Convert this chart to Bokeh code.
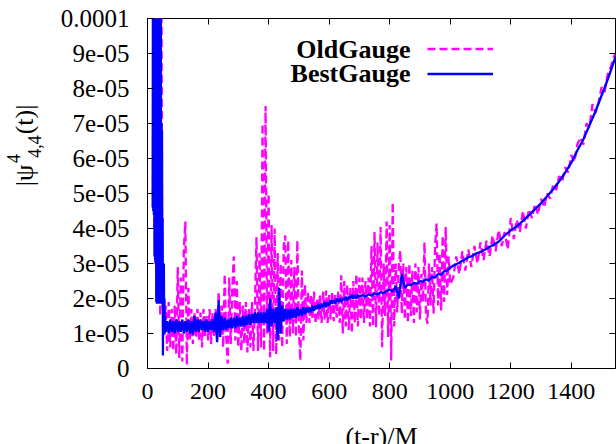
import numpy as np
from bokeh.plotting import figure
from bokeh.layouts import column, row
from bokeh.models import Range1d, LinearAxis, FixedTicker, Label, Legend, LegendItem
from bokeh.core.properties import value
from bokeh.embed import file_html
from bokeh.resources import INLINE

UNIT = 1e-5  # values below are in units of 1e-5

# ---- BestGauge (blue) ----
best_a = [4.6, 12, 4.5, 12, 4.4, 12, 3.2, 12, 3.1, 12, 3.0, 12, 1.9, 12, 1.85, 12, 1.9, 12, 1.9, 12,
          1.85, 12, 1.9, 12, 1.9, 12, 1.85, 11, 1.9, 7.0, 1.9, 6.8, 1.9, 4.3, 0.37, 3.0, 1.9, 3.0,
          1.2, 2.0, 1.0, 1.5]  # t = 17..58
best_b = [1.05, 1.35, 1.0, 1.4, 1.05, 1.35, 1.0, 1.4, 1.05, 1.35,
          1.05, 1.4, 1.0, 1.35, 1.05, 1.4, 1.0, 1.35, 0.97, 1.5,
          1.05, 1.4, 1.05, 1.4, 1.1, 1.35, 1.05, 1.4, 1.05, 1.35,
          1.1, 1.4, 1.05, 1.6, 0.75, 1.94, 0.9, 1.5, 1.1, 1.45,
          1.1, 1.4, 1.15, 1.45, 1.15, 1.45, 1.15, 1.5, 1.2, 1.45,
          1.2, 1.5, 1.2, 1.5, 1.25, 1.55, 1.25, 1.55, 1.3, 1.6,
          1.3, 1.6, 1.3, 1.6, 1.3, 1.6, 1.3, 1.7, 1.05, 2.0,
          1.2, 1.7, 1.3, 1.75, 0.8, 2.3, 1.0, 1.8, 1.35, 1.7,
          1.4, 1.7, 1.4, 1.7, 1.45, 1.7, 1.45, 1.75, 1.5, 1.7,
          1.5, 1.75, 1.55, 1.75, 1.6, 1.75, 1.6, 1.8, 1.65, 1.8,
          1.7, 1.85, 1.7, 1.85, 1.75, 1.9, 1.75, 1.9, 1.8, 1.95,
          1.85, 1.95, 1.85, 2.0, 1.9, 2.0, 1.9, 2.0, 1.95, 2.05,
          1.95, 2.05, 2.0, 2.1, 2.0, 2.1, 2.0, 2.1, 2.05]  # t = 60..700 step 5
best_c = [2.1, 2.05, 2.12, 2.08, 2.15, 2.12, 2.18, 2.15, 2.22, 2.25,
          2.2, 2.35, 2.0, 2.7, 2.3, 2.4, 2.38, 2.45, 2.42, 2.5,
          2.48, 2.55, 2.52, 2.62, 2.6, 2.7, 2.68, 2.78, 2.8, 2.88,
          2.94, 2.98, 3.02, 3.08, 3.12, 3.18, 3.2, 3.26, 3.3, 3.33]  # t = 710..1100 step 10
best_d = [3.42, 3.52, 3.62, 3.8, 3.95, 4.06, 4.22, 4.38, 4.55, 4.72, 4.92,
          5.12, 5.35, 5.6, 5.88, 6.23, 6.55, 6.95, 7.35, 7.8, 8.25, 8.75]  # t = 1120..1540 step 20
best_end = [8.9]  # t = 1546

# ---- OldGauge (magenta) ----
old_a = [5.0, 12, 4.0, 12, 3.0, 12, 2.0, 12, 2.0, 12, 1.9, 12, 1.5, 12, 12, 4.3]  # t = 18..48 step 2
old_b = [1.9, 0.9, 1.8, 0.5, 1.9, 0.6, 1.7, 0.5, 1.8, 0.4,
         2.9, 0.3, 2.6, 0.2, 3.4, 4.2, 0.1, 2.3, 0.8, 1.7,
         0.7, 1.6, 0.9, 1.7, 0.8, 1.6, 0.6, 1.7, 0.9, 1.5,
         0.8, 1.7, 0.7, 1.6, 0.9, 1.7, 0.8, 2.2, 0.9, 1.8,
         0.6, 2.7, 0.9, 0.14, 2.6, 0.7, 2.3, 3.2, 0.8, 2.5,
         0.6, 1.9, 0.5, 1.8, 0.7, 1.9, 0.46, 1.7, 0.6, 1.9,
         0.5, 1.8, 3.75, 0.5, 3.3, 0.6, 7.0, 0.5, 7.5, 1.0,
         5.0, 0.32, 4.1, 0.5, 4.0, 0.4, 3.3, 0.8, 3.0, 0.6,
         3.5, 3.8, 0.7, 3.66, 0.9, 3.1, 1.0, 2.9, 0.9, 3.66,
         1.1, 0.23, 2.8, 0.8, 2.4, 1.3, 2.2, 1.3, 2.1, 1.4,
         2.2, 1.28, 2.0, 1.4, 2.1, 1.3, 2.2, 1.4, 2.23, 1.3,
         2.1, 1.4, 2.2, 1.35, 2.1, 1.45, 2.2, 1.3, 2.66, 1.0,
         2.5, 1.2, 2.4, 1.1, 2.3, 1.0, 2.5, 1.3, 2.7, 1.2,
         2.6, 1.4, 2.6, 1.3, 2.5, 1.4, 2.6, 1.2, 3.5, 1.2,
         3.9, 1.18, 3.6, 1.5, 4.04, 0.61, 3.0, 1.5, 4.2, 0.9,
         4.1, 0.23, 4.75, 1.2, 3.0, 1.6, 2.9, 3.37, 1.57, 3.0,
         1.4, 2.9, 1.3, 3.0, 1.5, 2.8, 1.3, 3.0, 1.6, 2.9,
         1.4, 2.7, 1.9, 3.61, 1.5, 1.28, 3.0, 1.8, 2.9, 1.57,
         3.5, 4.14, 1.8, 3.3, 1.66, 3.8, 1.9, 4.04, 2.1, 3.2,
         2.4]  # t = 50..1000 step 5
old_c = [2.6, 3.2, 2.7, 3.35, 2.8, 3.4, 2.9, 3.5, 3.0, 3.6,
         3.1, 3.65, 3.2, 3.8, 3.35, 3.96, 3.5, 3.9, 3.4, 4.3,
         3.7, 4.25, 3.9, 4.5, 4.0, 4.55, 4.3, 4.7, 4.4, 4.85,
         4.6, 5.0, 4.85, 5.25, 5.1, 5.5, 5.35, 5.75, 5.6, 6.1,
         5.9, 6.4, 6.6, 6.4, 7.0, 6.9, 7.55, 7.3, 7.6, 8.04,
         7.9, 8.4, 8.6, 8.9]  # t = 1010..1540 step 10
old_end = [9.0]  # t = 1546

x_ticks = [0, 200, 400, 600, 800, 1000, 1200, 1400]
y_ticks = [0.0, 1e-05, 2e-05, 3e-05, 4e-05, 5e-05, 6e-05, 7e-05, 8e-05, 9e-05, 1e-04]
y_tick_labels = ["0", "1e-05", "2e-05", "3e-05", "4e-05", "5e-05", "6e-05", "7e-05", "8e-05", "9e-05", "0.0001"]
series_names = ["OldGauge", "BestGauge"]
x_title = "(t-r)/M"

best_t = np.concatenate([np.arange(17, 59), np.arange(60, 705, 5), np.arange(710, 1110, 10),
                         np.arange(1120, 1560, 20), [1546]])
best_v = np.array(best_a + best_b + best_c + best_d + best_end) * UNIT
old_t = np.concatenate([np.arange(18, 50, 2), np.arange(50, 1005, 5), np.arange(1010, 1550, 10), [1546]])
old_v = np.array(old_a + old_b + old_c + old_end) * UNIT
assert len(best_t) == len(best_v), (len(best_t), len(best_v))
assert len(old_t) == len(old_v), (len(old_t), len(old_v))

SERIF = "Liberation Serif"
MAIN_H = 418

p = figure(width=566, height=MAIN_H, x_range=Range1d(0, 1546), y_range=Range1d(0, 1e-4),
           output_backend="svg", toolbar_location=None, title=None,
           min_border_left=97, min_border_right=1, min_border_top=18, min_border_bottom=50)
p.grid.visible = False
p.outline_line_color = "black"
p.outline_line_width = 1
p.outline_line_alpha = 1
p.background_fill_color = "white"
p.border_fill_color = "white"

for ax in (p.xaxis[0], p.yaxis[0]):
    ax.axis_line_color = None
    ax.major_tick_in = 6
    ax.major_tick_out = 0
    ax.minor_tick_line_color = None
    ax.major_tick_line_color = "black"
    ax.major_label_text_font = SERIF
    ax.major_label_text_color = "black"

p.xaxis[0].ticker = FixedTicker(ticks=x_ticks)
p.xaxis[0].major_label_text_font_size = "24px"
p.xaxis[0].major_label_standoff = 15
p.yaxis[0].ticker = FixedTicker(ticks=y_ticks)
p.yaxis[0].major_label_text_font_size = "25px"
p.yaxis[0].major_label_standoff = 18
p.yaxis[0].major_label_overrides = {t: s for t, s in zip(y_ticks, y_tick_labels)}

# mirror ticks on top and right
top = LinearAxis(ticker=FixedTicker(ticks=x_ticks), major_label_overrides={t: "" for t in x_ticks})
right = LinearAxis(ticker=FixedTicker(ticks=y_ticks), major_label_overrides={t: "" for t in y_ticks})
for ax in (top, right):
    ax.axis_line_color = None
    ax.major_tick_in = 6
    ax.major_tick_out = 0
    ax.minor_tick_line_color = None
    ax.major_label_text_font_size = "1px"
    ax.major_label_standoff = 0
p.add_layout(top, "above")
p.add_layout(right, "right")

r_old = p.line(old_t, old_v, line_color="#ff00ff", line_width=2.3, line_dash="8 4")
r_best = p.line(best_t, best_v, line_color="#0000ff", line_width=2.3)

legend = Legend(items=[LegendItem(label=value(" "), renderers=[r_old]),
                       LegendItem(label=value(" "), renderers=[r_best])],
                location=(280, 282), glyph_width=66, glyph_height=25, label_height=25,
                label_width=0, label_standoff=0, padding=0, spacing=0, margin=0,
                border_line_color=None, background_fill_alpha=0, label_text_font_size="1px")
p.add_layout(legend)

for txt, yy in zip(series_names, (319, 295)):
    p.add_layout(Label(x=263, y=yy, x_units="screen", y_units="screen", text=txt,
                       text_align="right", text_baseline="middle", text_font=SERIF,
                       text_font_size="26px", text_font_style="bold", text_color="black"))


def blank(w, h):
    f = figure(width=w, height=h, x_range=Range1d(0, 1), y_range=Range1d(0, 1),
               output_backend="svg", toolbar_location=None, min_border=0, title=None,
               x_axis_location=None, y_axis_location=None)
    f.outline_line_color = None
    f.grid.visible = False
    f.background_fill_color = "white"
    f.border_fill_color = "white"
    return f


# y axis title |psi^4_{4,4}(t)| rotated, in its own strip; each piece centred on its anchor
ylab = blank(50, MAIN_H)
ang = np.pi / 2
pieces = [("|\u03c8", 24, MAIN_H - 225, "26px"), ("4", 13, MAIN_H - 208, "18px"),
          ("4,4", 34, MAIN_H - 196, "18px"), ("(t)|", 24, MAIN_H - 169, "26px")]
for txt, xx, yy, fs in pieces:
    ylab.add_layout(Label(x=xx, y=yy, x_units="screen", y_units="screen", text=txt, angle=ang,
                          text_align="center", text_baseline="middle", text_font=SERIF,
                          text_font_size=fs, text_color="black"))

# x axis title, in its own strip below
XLAB_H = 444 - MAIN_H
xlab = blank(616, XLAB_H)
xlab.add_layout(Label(x=381, y=XLAB_H - (436 - MAIN_H), x_units="screen", y_units="screen",
                      text=x_title, text_align="center", text_baseline="middle",
                      text_font=SERIF, text_font_size="26px", text_color="black"))

layout = column(row(ylab, p, spacing=0), xlab, spacing=0)
open("out.html", "w").write(file_html(layout, INLINE))
